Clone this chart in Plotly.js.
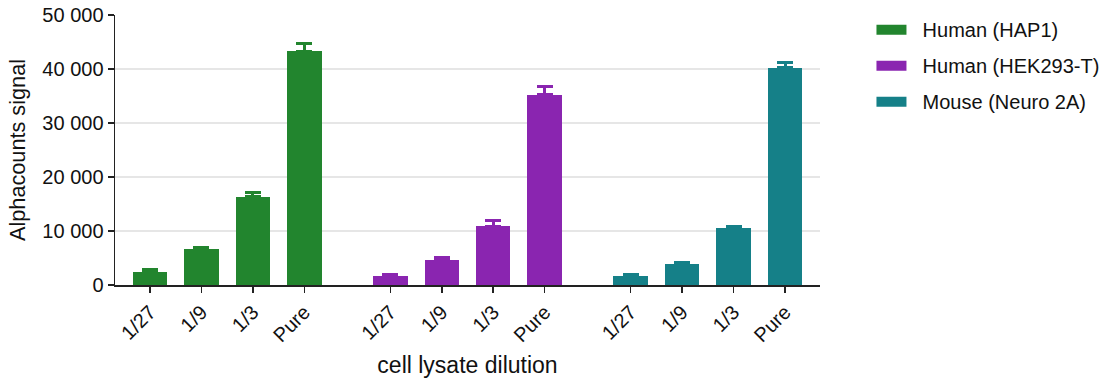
<!DOCTYPE html>
<html>
<head>
<meta charset="utf-8">
<script src="https://cdn.plot.ly/plotly-3.0.1.min.js"></script>
<style>html,body{margin:0;padding:0;background:#fff;}#chart{width:1107px;height:383px;}</style>
</head>
<body>
<div id="chart"></div>
<script>
var dilutions = ['1/27', '1/9', '1/3', 'Pure'];
var seriesNames = ['Human (HAP1)', 'Human (HEK293-T)', 'Mouse (Neuro 2A)'];
var hap1Values = [2500, 6600, 16300, 43300];
var hap1Errors = [300, 300, 800, 1500];
var hek293Values = [1600, 4550, 10900, 35200];
var hek293Errors = [300, 500, 1050, 1550];
var neuro2aValues = [1600, 3850, 10500, 40250];
var neuro2aErrors = [350, 370, 400, 900];
var yTickVals = [0, 10000, 20000, 30000, 40000, 50000];
var yTickText = ['0', '10 000', '20 000', '30 000', '40 000', '50 000'];

var colors = ['#22852e', '#8a25b0', '#158088'];
var groupStep = 4.67;
var allValues = [hap1Values, hek293Values, neuro2aValues];
var allErrors = [hap1Errors, hek293Errors, neuro2aErrors];
var font = 'Liberation Sans, Arial, Helvetica, sans-serif';

var traces = [];
var tickvals = [], ticktext = [];
allValues.forEach(function (vals, g) {
  var xs = dilutions.map(function (d, j) { return g * groupStep + j; });
  xs.forEach(function (x, j) { tickvals.push(x); ticktext.push(dilutions[j]); });
  traces.push({
    type: 'bar', x: xs, y: vals, width: 0.67,
    marker: {color: colors[g], line: {width: 0}},
    error_y: {type: 'data', array: allErrors[g], arrayminus: allErrors[g].map(function () { return 0; }),
              symmetric: false, color: colors[g], thickness: 3, width: 8},
    showlegend: false, hoverinfo: 'skip'
  });
});
seriesNames.forEach(function (name, g) {
  traces.push({
    type: 'scatter', mode: 'lines', x: [null], y: [null], name: '\u00a0\u00a0' + name,
    line: {color: colors[g], width: 12}, legendgroup: 'g' + g
  });
});

var layout = {
  width: 1107, height: 383,
  margin: {l: 115, r: 287, t: 15, b: 98, autoexpand: false},
  paper_bgcolor: '#fff', plot_bgcolor: '#fff',
  font: {family: font, color: '#111', size: 19},
  bargap: 0,
  xaxis: {
    range: [-0.68, 2 * groupStep + 3 + 0.68],
    tickvals: tickvals, ticktext: ticktext, tickangle: -45,
    ticks: 'outside', ticklen: 6, tickwidth: 1.5, tickcolor: '#222',
    showline: true, linecolor: '#222', linewidth: 1.5,
    showgrid: false, zeroline: false,
    tickfont: {size: 20, family: font, color: '#111'},
    title: {text: 'cell lysate dilution', font: {size: 23, family: font, color: '#111'}, standoff: 11}
  },
  yaxis: {
    range: [0, 50000],
    tickvals: yTickVals, ticktext: yTickText,
    ticks: 'outside', ticklen: 6, tickwidth: 1.5, tickcolor: '#222',
    showline: true, linecolor: '#222', linewidth: 1.5,
    showgrid: true, gridcolor: '#e6e6e6', gridwidth: 1.5, zeroline: false,
    tickfont: {size: 20, family: font, color: '#111'},
    title: {text: 'Alphacounts signal', font: {size: 21.7, family: font, color: '#111'}, standoff: 10}
  },
  legend: {
    x: 1.073, xanchor: 'left', y: 1.018, yanchor: 'top',
    font: {size: 20, family: font, color: '#111'},
    itemwidth: 30, tracegroupgap: 7, bgcolor: 'rgba(0,0,0,0)'
  }
};

Plotly.newPlot('chart', traces, layout, {displayModeBar: false, staticPlot: true});
</script>
</body>
</html>
